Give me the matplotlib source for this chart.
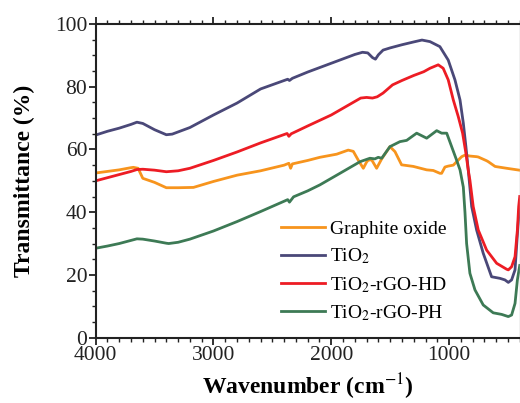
import matplotlib
matplotlib.use("Agg")
import matplotlib.pyplot as plt
from matplotlib.ticker import MultipleLocator
from matplotlib import font_manager

names = {f.name for f in font_manager.fontManager.ttflist}
serif = 'Liberation Serif' if 'Liberation Serif' in names else 'STIXGeneral'
plt.rcParams['font.family'] = [serif, 'STIXGeneral', 'DejaVu Serif']
plt.rcParams['mathtext.fontset'] = 'stix'

# ---- data ----
go_x = [4000, 3900, 3800, 3700, 3680, 3640, 3600, 3500, 3400, 3300, 3170, 3000, 2800, 2600,
        2400, 2360, 2345, 2330, 2200, 2097, 1954, 1856, 1813, 1771, 1728, 1700, 1686, 1657,
        1615, 1572, 1502, 1459, 1403, 1304, 1190, 1134, 1078, 1063, 1035, 1007, 964, 922,
        893, 865, 823, 766, 752, 681, 667, 610, 596, 511, 403]
go_y = [52.5, 53.0, 53.5, 54.2, 54.3, 54.0, 50.8, 49.5, 47.8, 47.8, 47.9, 49.8, 51.8, 53.2,
        55.0, 55.6, 54.0, 55.4, 56.5, 57.5, 58.5, 59.8, 59.4, 56.6, 54.0, 56.0, 56.6, 56.7,
        54.0, 57.0, 60.9, 59.3, 55.1, 54.6, 53.5, 53.3, 52.4, 52.4, 54.4, 54.7, 55.0, 56.6,
        57.7, 58.2, 57.9, 57.7, 57.6, 56.4, 56.1, 54.6, 54.5, 54.0, 53.4]

tio2_x = [4000, 3900, 3800, 3700, 3650, 3600, 3500, 3400, 3350, 3200, 3000, 2800, 2600,
          2400, 2370, 2355, 2330, 2200, 2000, 1800, 1735, 1690, 1650, 1625, 1600, 1560,
          1500, 1400, 1300, 1230, 1162, 1078, 1007, 950, 907, 879, 857, 837, 808, 766,
          710, 639, 568, 526, 497, 469, 440, 420, 400]
tio2_y = [64.6, 65.8, 66.8, 68.0, 68.7, 68.3, 66.3, 64.7, 64.9, 67.0, 71.0, 74.8, 79.3,
          82.0, 82.4, 82.0, 82.7, 84.7, 87.5, 90.3, 91.0, 90.8, 89.3, 88.8, 90.2, 91.7,
          92.4, 93.4, 94.3, 94.9, 94.4, 92.8, 88.5, 82.2, 75.8, 68.4, 60.9, 53.5, 41.8, 34.3,
          26.9, 19.4, 18.9, 18.4, 17.6, 18.4, 21.6, 33.0, 43.0]

hd_x = [4000, 3900, 3800, 3700, 3650, 3600, 3500, 3400, 3300, 3200, 3000, 2800, 2600,
        2375, 2360, 2340, 2200, 2000, 1750, 1700, 1650, 1610, 1560, 1480, 1400, 1300,
        1215, 1162, 1092, 1050, 1007, 964, 922, 885, 857, 837, 823, 795, 752, 681, 596,
        511, 497, 469, 440, 420, 409, 400]
hd_y = [50.0, 51.0, 52.0, 53.0, 53.6, 53.7, 53.4, 52.9, 53.2, 54.0, 56.5, 59.2, 62.1,
        65.1, 64.2, 65.0, 67.5, 71.0, 76.4, 76.6, 76.4, 76.8, 78.0, 80.6, 82.0, 83.6,
        84.8, 85.9, 87.0, 85.9, 82.2, 75.8, 70.5, 65.2, 58.8, 53.4, 50.2, 41.8, 34.3,
        27.9, 23.7, 21.8, 21.6, 22.6, 25.8, 34.3, 41.8, 45.0]

ph_x = [4000, 3900, 3800, 3700, 3650, 3600, 3500, 3400, 3380, 3300, 3200, 3000, 2800,
        2600, 2400, 2370, 2355, 2320, 2200, 2097, 1926, 1756, 1672, 1630, 1601, 1572,
        1502, 1417, 1360, 1275, 1190, 1105, 1063, 1020, 978, 936, 907, 879, 865, 851,
        823, 780, 710, 625, 554, 497, 469, 440, 420, 400]
ph_y = [28.5, 29.2, 30.0, 31.0, 31.5, 31.4, 30.8, 30.1, 30.0, 30.4, 31.4, 34.0, 37.0,
        40.2, 43.5, 44.0, 43.2, 44.9, 46.8, 48.7, 52.4, 56.1, 57.2, 57.0, 57.5, 57.2,
        60.9, 62.5, 62.9, 65.2, 63.6, 66.0, 65.2, 65.2, 60.9, 56.6, 53.5, 48.0, 40.0,
        30.0, 20.5, 15.2, 10.4, 7.9, 7.4, 6.7, 7.2, 10.9, 18.4, 23.0]

labels = ['Graphite oxide', 'TiO$_2$', 'TiO$_2$-rGO-HD', 'TiO$_2$-rGO-PH']
colors = ['#F7941D', '#4A4878', '#ED1C24', '#3D7A55']

fig = plt.figure(figsize=(5.2, 4.03), dpi=100)
ax = fig.add_axes([0.184, 0.1623, 0.8155, 0.778])

series = [(go_x, go_y), (tio2_x, tio2_y), (hd_x, hd_y), (ph_x, ph_y)]
for (xs, ys), lab, c in zip(series, labels, colors):
    ax.plot(xs, ys, color=c, lw=2.0, label=lab)

ax.set_xlim(4000, 400)
ax.set_ylim(0, 100)
ax.xaxis.set_major_locator(MultipleLocator(1000))
ax.xaxis.set_minor_locator(MultipleLocator(100))
ax.yaxis.set_major_locator(MultipleLocator(20))
ax.yaxis.set_minor_locator(MultipleLocator(5))

for s in ['left', 'bottom', 'top']:
    ax.spines[s].set_linewidth(1.5)
    ax.spines[s].set_color('#222222')
ax.spines['right'].set_color('#bbbbbb')
ax.spines['right'].set_linewidth(1.0)

ax.tick_params(which='major', direction='out', length=5, width=1.3, labelsize=15.5,
               top=False, right=False, pad=1, colors='#222222')
ax.tick_params(which='minor', direction='out', length=3, width=1.0,
               top=False, right=False, colors='#222222')
ax.tick_params(axis='x', which='both', top=True, labeltop=False)

ax.set_xlabel('Wavenumber (cm$^{\\mathrm{-1}}$)', fontsize=17, fontweight='bold')
ax.set_ylabel('Transmittance (%)', fontsize=17, fontweight='bold')
ax.xaxis.set_label_coords(0.5, -0.11)
ax.yaxis.set_label_coords(-0.143, 0.5)

leg = ax.legend(loc='upper left', bbox_to_anchor=(0.437, 0.375), frameon=False,
                fontsize=14, handlelength=2.27, handletextpad=0.26, labelspacing=0.45,
                borderpad=0, borderaxespad=0)

fig.savefig('out.png', dpi=100)
